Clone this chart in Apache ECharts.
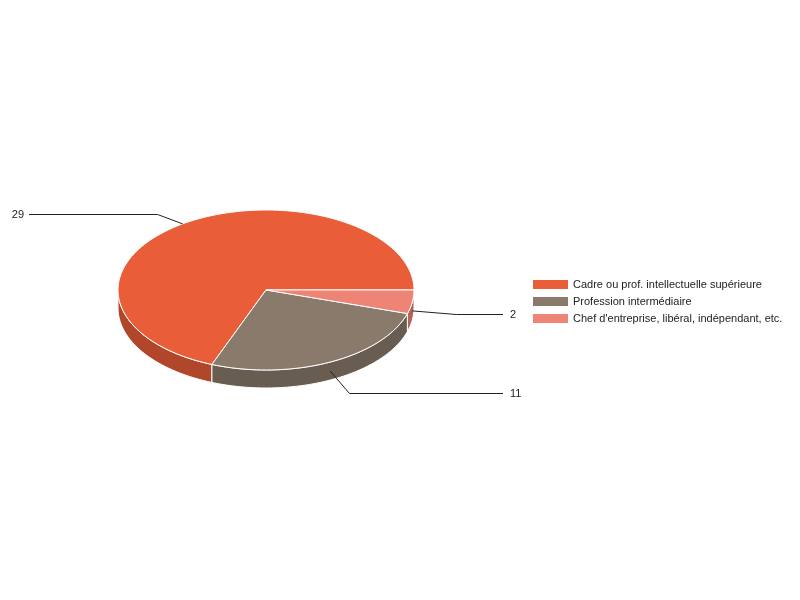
<!DOCTYPE html>
<html>
<head>
<meta charset="utf-8">
<script src="https://cdn.jsdelivr.net/npm/echarts@6/dist/echarts.min.js"></script>
<style>html,body{margin:0;padding:0;background:#fff}#main{width:800px;height:600px}</style>
</head>
<body>
<div id="main"></div>
<script>
// catégories et effectifs
var categories = ['Cadre ou prof. intellectuelle supérieure', 'Profession intermédiaire', "Chef d'entreprise, libéral, indépendant, etc."];
var values = [29, 11, 2];

var palette = ['#e95e38', '#8a7a6c', '#ee8476'];
var sides = ['#b0472a', '#695c51', '#b46359'];
var font = 'Liberation Sans, Arial, sans-serif';

var total = values.reduce(function (s, v) { return s + v; }, 0);

// une part de camembert 3D (ellipse + tranche)
function slice(params, api) {
  var i = params.seriesIndex;
  var w = api.getWidth(), h = api.getHeight();
  var cx = w * 0.3325, cy = h * 0.4833, rx = 148, ry = 80, depth = 18;
  var before = 0;
  for (var k = 0; k < i; k++) before += values[k];
  // degrés, sens anti-horaire depuis 3h
  var a1 = before / total * 360, a2 = (before + api.value(0)) / total * 360;
  function pt(a, dy) {
    var r = a * Math.PI / 180;
    return [cx + rx * Math.cos(r), cy - ry * Math.sin(r) + (dy || 0)];
  }
  function arc(from, to, dy) {
    var pts = [], n = Math.max(2, Math.ceil((to - from) / 2));
    for (var j = 0; j <= n; j++) pts.push(pt(from + (to - from) * j / n, dy));
    return pts;
  }
  var children = [];
  // tranche (moitié avant seulement)
  var s1 = Math.max(a1, 180), s2 = Math.min(a2, 360);
  if (s2 > s1) {
    children.push({
      type: 'polygon', z2: 1,
      shape: { points: arc(s1, s2, 0).concat(arc(s1, s2, depth).reverse()) },
      style: { fill: sides[i], stroke: '#fff', lineWidth: 1 }
    });
  }
  // dessus
  children.push({
    type: 'polygon', z2: 2,
    shape: { points: [[cx, cy]].concat(arc(a1, a2, 0)) },
    style: { fill: palette[i], stroke: '#fff', lineWidth: 1 }
  });
  // ligne de rappel + étiquette
  var mid = (a1 + a2) / 2, m = mid * Math.PI / 180;
  var lower = Math.sin(m) < 0;
  var anchor = pt(mid, lower ? depth / 2 : 0);
  var oy = lower ? cy + depth / 2 : cy;
  var ey = Math.round(oy + (anchor[1] - oy) * (lower ? 1.3 : 1.15)) + 0.5;
  var elbow = [cx + (anchor[0] - cx) * 1.3, ey];
  var right = Math.cos(m) > 0;
  var endX = right ? cx + 237 : cx - 237;
  children.push({
    type: 'polyline', z2: 3,
    shape: { points: [anchor, elbow, [endX, ey]] },
    style: { stroke: '#222', fill: null, lineWidth: 1 }
  });
  children.push({
    type: 'text', z2: 3,
    style: {
      text: String(api.value(0)), x: right ? endX + 7 : endX - 5, y: ey,
      align: right ? 'left' : 'right', verticalAlign: 'middle',
      fontSize: 11, fontFamily: font, fill: '#222'
    }
  });
  return { type: 'group', children: children };
}

var chart = echarts.init(document.getElementById('main'));
chart.setOption({
  animation: false,
  legend: {
    orient: 'vertical',
    left: 528,
    top: 274,
    icon: 'rect',
    itemWidth: 35,
    itemHeight: 9,
    itemGap: 6,
    selectedMode: false,
    data: categories,
    textStyle: { fontFamily: font, fontSize: 11, color: '#222' }
  },
  series: categories.map(function (name, i) {
    return {
      type: 'custom',
      name: name,
      coordinateSystem: 'none',
      silent: true,
      itemStyle: { color: palette[i] },
      data: [values[i]],
      renderItem: slice
    };
  })
});
</script>
</body>
</html>
